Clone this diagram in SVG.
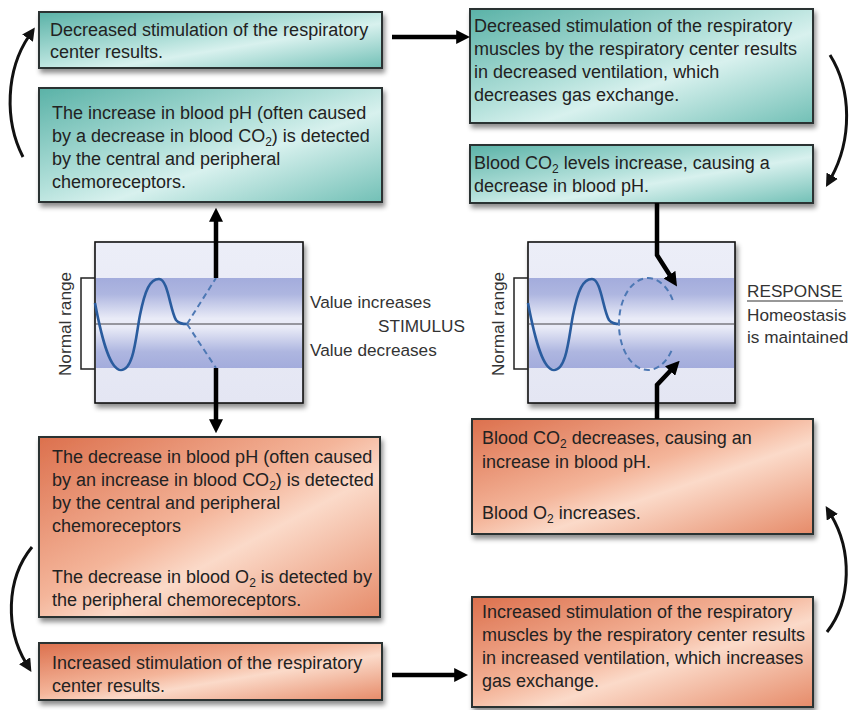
<svg xmlns="http://www.w3.org/2000/svg" width="850" height="710" viewBox="0 0 850 710">
<style>
.t{font-family:"Liberation Sans",Arial,sans-serif;font-size:18px;fill:#222}
.lbl{font-family:"Liberation Sans",Arial,sans-serif;font-size:17.2px;fill:#333}
.sub{font-size:12px}
.box{stroke:#2b3333;stroke-width:2}
.teal{fill:url(#gTeal)}
.orange{fill:url(#gOrange)}
.gbox{fill:url(#gGraph);stroke:#111;stroke-width:1.6}
.band{fill:url(#gBand)}
.mid{stroke:#7a7a80;stroke-width:1.6}
.wave{fill:none;stroke:#2a5c9e;stroke-width:2.6}
.dash{fill:none;stroke:#4d78b4;stroke-width:2;stroke-dasharray:6 4}
.brk{fill:none;stroke:#222;stroke-width:1.5}
.thick{fill:none;stroke:#000;stroke-width:4.5;marker-end:url(#ahBig)}
.curve{fill:none;stroke:#111;stroke-width:3;marker-end:url(#ah)}
</style>
<defs>
<linearGradient id="gTeal" x1="0" y1="0" x2="1" y2="1">
<stop offset="0" stop-color="#5ab2a7"/>
<stop offset="0.45" stop-color="#b4e1db"/>
<stop offset="0.6" stop-color="#d8f1ee"/>
<stop offset="1" stop-color="#72c0b6"/>
</linearGradient>
<linearGradient id="gOrange" x1="0" y1="0" x2="1" y2="1">
<stop offset="0" stop-color="#dc704d"/>
<stop offset="0.45" stop-color="#f4b59a"/>
<stop offset="0.6" stop-color="#fbdac9"/>
<stop offset="1" stop-color="#e68b69"/>
</linearGradient>
<linearGradient id="gGraph" x1="0" y1="0" x2="0" y2="1">
<stop offset="0" stop-color="#eceef8"/>
<stop offset="1" stop-color="#e4e6f3"/>
</linearGradient>
<linearGradient id="gBand" x1="0" y1="0" x2="0" y2="1">
<stop offset="0" stop-color="#a3acdc"/>
<stop offset="0.18" stop-color="#aeb6e0"/>
<stop offset="0.45" stop-color="#e9ebf7"/>
<stop offset="0.55" stop-color="#e9ebf7"/>
<stop offset="0.82" stop-color="#aeb6e0"/>
<stop offset="1" stop-color="#a3acdc"/>
</linearGradient>
<filter id="sh" x="-5%" y="-10%" width="112%" height="130%">
<feDropShadow dx="2" dy="4" stdDeviation="2.5" flood-color="#000" flood-opacity="0.45"/>
</filter>
<marker id="ahBig" viewBox="0 0 10 10" refX="2" refY="5" markerWidth="14" markerHeight="14" markerUnits="userSpaceOnUse" orient="auto">
<path d="M0,0 L10,5 L0,10 z" fill="#000"/>
</marker>
<marker id="ah" viewBox="0 0 10 10" refX="2" refY="5" markerWidth="13" markerHeight="13" markerUnits="userSpaceOnUse" orient="auto">
<path d="M0,0 L10,5 L0,10 z" fill="#111"/>
</marker>
<path id="wavePath" d="M95,303 C102,340 110,370 121,370 C134,370 136,335 140,315 C145,290 150,279 159,279 C168,279 170,310 176,320 C179,324 183,324 187,324"/>
</defs>
<rect width="850" height="710" fill="#fff"/>

<g id="box1">
<rect class="box teal" x="39" y="12" width="343" height="56" filter="url(#sh)"/>
<text class="t" x="50" y="36">Decreased stimulation of the respiratory</text>
<text class="t" x="50" y="58">center results.</text>
</g>

<g id="box2">
<rect class="box teal" x="39" y="88" width="343" height="114" filter="url(#sh)"/>
<text class="t" x="52" y="119">The increase in blood pH (often caused</text>
<text class="t" x="52" y="142">by a decrease in blood CO<tspan class="sub" dy="4">2</tspan><tspan dy="-4">) is detected</tspan></text>
<text class="t" x="52" y="165">by the central and peripheral</text>
<text class="t" x="52" y="188">chemoreceptors.</text>
</g>

<g id="box3">
<rect class="box teal" x="470" y="9" width="343" height="114" filter="url(#sh)"/>
<text class="t" x="474" y="32">Decreased stimulation of the respiratory</text>
<text class="t" x="474" y="55">muscles by the respiratory center results</text>
<text class="t" x="474" y="78">in decreased ventilation, which</text>
<text class="t" x="474" y="101">decreases gas exchange.</text>
</g>

<g id="box4">
<rect class="box teal" x="470" y="145" width="343" height="58" filter="url(#sh)"/>
<text class="t" x="474" y="169">Blood CO<tspan class="sub" dy="4">2</tspan><tspan dy="-4"> levels increase, causing a</tspan></text>
<text class="t" x="474" y="192">decrease in blood pH.</text>
</g>

<g id="graph-stimulus">
<rect class="gbox" x="95" y="242" width="208" height="161" filter="url(#sh)"/>
<rect class="band" x="96" y="278" width="206" height="90"/>
<line class="mid" x1="96" y1="324" x2="302" y2="324"/>
<path class="brk" d="M95,278 H81 V369 H95"/>
<text class="lbl" transform="translate(71,324) rotate(-90)" text-anchor="middle">Normal range</text>
<use href="#wavePath" class="wave"/>
<path class="dash" d="M187,324 L216,278 M187,324 L216,368"/>
<text class="lbl" x="310" y="308">Value increases</text>
<text class="lbl" x="378" y="332">STIMULUS</text>
<text class="lbl" x="310" y="356">Value decreases</text>
</g>

<g id="graph-response">
<rect class="gbox" x="528" y="242" width="207" height="161" filter="url(#sh)"/>
<rect class="band" x="529" y="278" width="205" height="90"/>
<line class="mid" x1="529" y1="324" x2="734" y2="324"/>
<path class="brk" d="M528,278 H514 V369 H528"/>
<text class="lbl" transform="translate(504,324) rotate(-90)" text-anchor="middle">Normal range</text>
<use href="#wavePath" class="wave" transform="translate(433,0)"/>
<path class="dash" d="M672.7,300 A29,46 0 1 0 672.7,348"/>
<text class="lbl" x="747" y="297">RESPONSE</text>
<line x1="747" y1="301" x2="843" y2="301" stroke="#333" stroke-width="1.2"/>
<text class="lbl" x="747" y="321">Homeostasis</text>
<text class="lbl" x="747" y="343">is maintained</text>
</g>

<g id="box5">
<rect class="box orange" x="39" y="437" width="341" height="180" filter="url(#sh)"/>
<text class="t" x="52" y="463">The decrease in blood pH (often caused</text>
<text class="t" x="52" y="486">by an increase in blood CO<tspan class="sub" dy="4">2</tspan><tspan dy="-4">) is detected</tspan></text>
<text class="t" x="52" y="509">by the central and peripheral</text>
<text class="t" x="52" y="532">chemoreceptors</text>
<text class="t" x="52" y="583">The decrease in blood O<tspan class="sub" dy="4">2</tspan><tspan dy="-4"> is detected by</tspan></text>
<text class="t" x="52" y="606">the peripheral chemoreceptors.</text>
</g>

<g id="box6">
<rect class="box orange" x="39" y="643" width="343" height="57" filter="url(#sh)"/>
<text class="t" x="52" y="669">Increased stimulation of the respiratory</text>
<text class="t" x="52" y="692">center results.</text>
</g>

<g id="box7">
<rect class="box orange" x="472" y="419" width="341" height="115" filter="url(#sh)"/>
<text class="t" x="482" y="444">Blood CO<tspan class="sub" dy="4">2</tspan><tspan dy="-4"> decreases, causing an</tspan></text>
<text class="t" x="482" y="468">increase in blood pH.</text>
<text class="t" x="482" y="519">Blood O<tspan class="sub" dy="4">2</tspan><tspan dy="-4"> increases.</tspan></text>
</g>

<g id="box8">
<rect class="box orange" x="472" y="597" width="341" height="110" filter="url(#sh)"/>
<text class="t" x="482" y="618">Increased stimulation of the respiratory</text>
<text class="t" x="482" y="641">muscles by the respiratory center results</text>
<text class="t" x="482" y="664">in increased ventilation, which increases</text>
<text class="t" x="482" y="687">gas exchange.</text>
</g>

<g id="connectors">
<path class="curve" d="M23,157 C4,120 6,70 29,36"/>
<path class="thick" d="M392,37 L459,37"/>
<path class="curve" d="M830,55 C852,90 852,140 831,178"/>
<path class="thick" d="M657,203 L657,255 L671,277"/>
<path class="thick" d="M216,278 L216,219"/>
<path class="thick" d="M216,368 L216,422"/>
<path class="thick" d="M657,419 L657,385 L672,369"/>
<path class="curve" d="M32,547 C5,580 6,630 26,663"/>
<path class="thick" d="M392,675 L457,675"/>
<path class="curve" d="M827,632 C852,600 852,550 831,515"/>
</g>
</svg>
